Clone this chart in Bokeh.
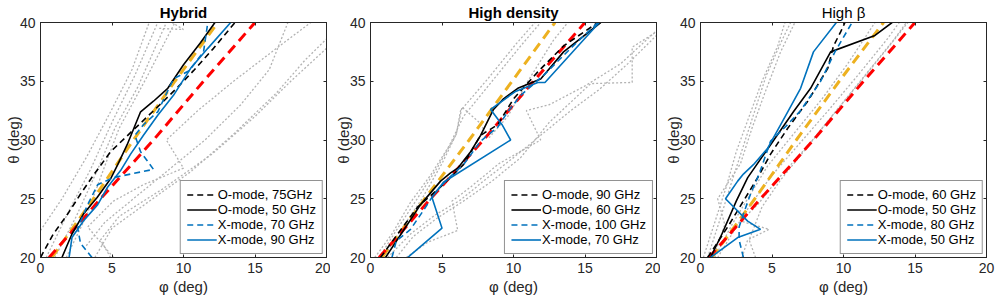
from bokeh.plotting import figure
from bokeh.layouts import row
from bokeh.models import LinearAxis, Legend, LegendItem, Range1d, FixedTicker
from bokeh.embed import file_html
from bokeh.resources import INLINE

FONT = "Liberation Sans"
AX = "#262626"
BLUE = "#0072BD"
YELLOW = "#EDB120"
RED = "#FF0000"
GRAY = "#b3b3b3"

x_ticks = [0, 5, 10, 15, 20]
y_ticks = [20, 25, 30, 35, 40]
titles = ["Hybrid", "High density", "High β"]
x_label = "φ (deg)"
y_label = "θ (deg)"

# ---------------- Hybrid ----------------
hyb_labels = ["O-mode, 75GHz", "O-mode, 50 GHz", "X-mode, 70 GHz", "X-mode, 90 GHz"]
hyb_o1_phi = [0, 0.9, 1.9, 2.8, 3.7, 4.9, 6.1, 7.4, 8.6, 9.6, 10.7, 12.1, 13.6]
hyb_o1_theta = [20, 22.0, 23.7, 25.4, 27.0, 29.0, 30.4, 31.9, 33.3, 34.5, 35.9, 37.8, 40]
hyb_o2_phi = [1.5, 2.2, 3.0, 3.96, 4.9, 5.4, 6.06, 7.0, 7.9, 8.9, 10.0, 11.2, 12.2]
hyb_o2_theta = [20, 22.0, 23.7, 25.1, 26.7, 27.9, 29.6, 32.4, 33.3, 34.4, 36.4, 38.3, 40]
hyb_x1_phi = [3.6, 2.8, 2.6, 3.3, 4.0, 5.1, 7.9, 7.0, 6.6, 7.2, 8.2, 9.3, 10.4, 11.4, 11.7]
hyb_x1_theta = [20, 21.2, 22.5, 24.5, 26.2, 26.8, 27.5, 29.0, 30.4, 31.3, 32.4, 35.2, 35.9, 37.5, 40]
hyb_x2_phi = [2.0, 2.2, 3.0, 4.0, 4.7, 5.6, 6.3, 7.2, 8.2, 9.3, 10.5, 11.7, 13.3]
hyb_x2_theta = [20, 21.7, 23.1, 24.5, 26.0, 27.4, 28.8, 30.4, 32.1, 33.8, 36.1, 37.8, 40]
hyb_red_phi = [0.6, 4.2, 7.9, 11.4, 15.0]
hyb_red_theta = [20, 25, 30, 35, 40]
hyb_yel_phi = [0.8, 3.7, 6.5, 9.4, 12.4]
hyb_yel_theta = [20, 25, 30, 35, 40]
hyb_gray_phi = [
    [0, 1.5, 3.2, 4.9, 6.4, 7.6],
    [0.4, 2.0, 3.5, 5.0, 6.6, 8.2],
    [1.0, 2.5, 4.0, 5.2, 6.8, 8.8],
    [1.8, 3.2, 4.5, 5.5, 7.5, 9.4],
    [8.3, 10.0, 9.2],
    [3.2, 4.5, 6.5, 9.0, 11.5, 14.0, 16.0, 17.3],
    [3.8, 5.0, 7.5, 10.5, 13.5, 16.5, 18.5, 20.0],
    [4.9, 4.2, 5.5, 8.5, 12.0, 15.0, 17.5, 20.0],
    [5.1, 3.3, 5.1, 7.2, 10.0, 8.8, 11.0, 13.5, 16.5, 18.9],
]
hyb_gray_theta = [
    [22.3, 25, 28.5, 32.4, 36, 40],
    [20, 24, 27.5, 31.5, 35.5, 40],
    [20, 23.5, 27.5, 31.0, 34.5, 40],
    [20, 23.5, 27.8, 31.0, 35.5, 40],
    [39.5, 39.4, 40],
    [21.0, 23.0, 25.0, 27.5, 30.0, 33.0, 36.0, 40],
    [20, 22.5, 24.7, 27.3, 30.5, 34.0, 36.8, 38.6],
    [20, 21.5, 23.5, 25.8, 28.8, 32.0, 35.0, 37.8],
    [20, 22.6, 24.8, 26.2, 27.6, 30.0, 32.5, 35.0, 37.8, 40],
]

# ---------------- High density ----------------
hd_labels = ["O-mode, 90 GHz", "O-mode, 60 GHz", "X-mode, 100 GHz", "X-mode, 70 GHz"]
hd_o1_phi = [0.7, 1.9, 3.3, 4.9, 6.5, 7.7, 8.9, 10.0, 11.7, 13.5, 15.9]
hd_o1_theta = [20, 22.0, 24.3, 26.0, 27.9, 30.4, 31.3, 33.5, 35.8, 38.0, 40]
hd_o2_phi = [1.05, 2.3, 3.5, 4.9, 5.6, 6.1, 7.0, 7.7, 8.6, 9.3, 10.3, 11.9, 13.5, 16.1]
hd_o2_theta = [20, 22.3, 24.5, 26.5, 27.2, 27.6, 29.0, 30.4, 32.6, 33.5, 34.4, 35.2, 37.5, 40]
hd_x1_phi = [1.5, 1.8, 2.8, 3.7, 4.5, 5.5, 6.5, 7.7, 8.9, 9.6, 10.5, 12.1, 14.0, 15.9]
hd_x1_theta = [20, 21.4, 22.4, 24.0, 25.5, 26.8, 27.9, 29.9, 31.1, 32.4, 33.8, 35.5, 37.8, 40]
hd_x2_phi = [2.6, 5.0, 4.3, 5.1, 9.8, 9.2, 8.4, 10.1, 11.7, 12.2, 16.0]
hd_x2_theta = [20, 22.5, 25.1, 26.4, 30.0, 31.3, 32.6, 34.1, 34.9, 34.9, 40]
hd_red_phi = [0.6, 4.2, 7.9, 11.4, 15.0]
hd_red_theta = [20, 25, 30, 35, 40]
hd_yel_phi = [0.8, 3.8, 6.9, 9.9, 12.9]
hd_yel_theta = [20, 25, 30, 35, 40]
hd_gray_phi = [
    [0.3, 1.5, 2.8, 4.2, 5.5, 6.5, 8.5, 10.5, 11.9],
    [0.6, 1.8, 3.0, 4.6, 6.0, 6.3, 8.2, 10.2, 11.5],
    [0.9, 2.2, 3.6, 5.0, 6.0, 6.4, 7.6, 8.3, 9.6, 11.0, 12.8, 13.8],
    [1.2, 2.8, 4.5, 6.3, 8.0, 10.0, 12.0, 14.0, 16.0, 18.0, 20.0],
    [1.8, 3.0, 4.6, 6.5, 8.5, 10.5, 12.5, 15.4, 18.3, 18.3, 20.0],
    [2.5, 4.0, 6.1, 5.7, 7.0, 9.0, 11.9, 10.9, 12.5, 15.0, 17.5, 20.0],
]
hd_gray_theta = [
    [20, 22.0, 24.7, 27.0, 29.5, 32.0, 35.0, 38.0, 40],
    [20, 22.3, 24.5, 27.5, 30.5, 32.5, 35.2, 38.2, 40],
    [20, 22.5, 25.0, 28.0, 30.5, 32.8, 31.5, 30.2, 32.0, 35.0, 38.5, 40],
    [20, 22.0, 23.6, 24.9, 26.6, 28.5, 30.5, 32.5, 34.3, 36.5, 38.9],
    [20, 21.8, 23.3, 24.8, 26.5, 28.5, 31.5, 34.8, 34.9, 37.9, 39.2],
    [20, 21.3, 22.3, 24.8, 26.0, 28.0, 30.0, 32.5, 33.0, 34.6, 36.5, 39.3],
]

# ---------------- High beta ----------------
hb_labels = ["O-mode, 60 GHz", "O-mode, 50 GHz", "X-mode, 80 GHz", "X-mode, 50 GHz"]
hb_o1_phi = [0.5, 1.9, 3.0, 4.0, 4.9, 6.1, 7.5, 8.9, 9.3, 9.8, 10.1]
hb_o1_theta = [20, 22.6, 24.8, 26.8, 28.8, 31.0, 33.3, 36.1, 38.0, 39.2, 40]
hb_o2_phi = [0.7, 1.5, 2.5, 3.3, 4.9, 6.5, 7.7, 9.1, 12.2, 13.4]
hb_o2_theta = [20, 22.0, 24.8, 26.8, 29.6, 32.4, 34.4, 37.5, 38.9, 40]
hb_x1_phi = [3.0, 2.7, 2.7, 3.0, 3.5, 4.1, 4.9, 6.0, 7.0, 8.4, 9.4, 10.6]
hb_x1_theta = [20, 21.5, 22.6, 23.7, 25.4, 27.1, 29.9, 31.2, 32.5, 35.0, 37.5, 40]
hb_x2_phi = [0.7, 2.6, 4.2, 3.3, 1.75, 2.6, 3.0, 3.7, 4.7, 6.1, 7.0, 7.9, 9.5]
hb_x2_theta = [20, 21.7, 22.4, 23.1, 25.0, 26.5, 27.1, 27.9, 29.3, 32.4, 34.4, 37.5, 40]
hb_red_phi = [0.6, 4.2, 7.9, 11.4, 15.0]
hb_red_theta = [20, 25, 30, 35, 40]
hb_yel_phi = [0.8, 3.8, 6.7, 9.7, 12.8]
hb_yel_theta = [20, 25, 30, 35, 40]
hb_gray_phi = [
    [0.2, 1.0, 1.8, 2.5, 3.4, 4.3, 5.4, 5.9],
    [0.5, 1.3, 2.2, 3.0, 3.8, 4.6, 5.7, 6.3],
    [0.9, 1.7, 1.2, 2.8, 3.6, 4.5, 5.6, 6.6],
    [2.9, 3.3, 4.8, 2.8, 4.0, 5.5, 7.5, 9.5, 11.5, 13.5, 14.4],
    [1.2, 2.5, 3.5, 5.0, 7.0, 9.0, 11.0, 13.0, 13.9],
    [3.85, 3.4, 4.3, 5.6, 7.4, 9.3, 11.2, 13.2, 14.5],
    [1.0, 2.2, 3.3, 4.7, 6.5, 8.5, 10.3, 12.2],
]
hb_gray_theta = [
    [20, 23, 26, 29, 32, 35, 38, 40],
    [20, 23, 26.5, 29.5, 32.5, 35.5, 38.5, 40],
    [20, 22.8, 25.0, 28.0, 31.0, 34.0, 37.5, 40],
    [20, 21.5, 22.4, 23.1, 24.5, 26.8, 29.5, 32.5, 35.5, 38.5, 40],
    [20, 22.6, 24.5, 27.0, 29.8, 32.6, 35.5, 38.5, 40],
    [20, 21.5, 24.3, 26.6, 29.3, 32.2, 35.0, 38.0, 40],
    [20, 22.8, 25.0, 27.8, 30.5, 33.5, 36.5, 40],
]


def style_axis(ax, standoff=4, show_labels=True, label_standoff=0):
    ax.axis_line_color = AX
    ax.major_tick_line_color = AX
    ax.minor_tick_line_color = None
    ax.major_tick_in = 3
    ax.major_tick_out = 0
    ax.major_label_text_font = FONT
    ax.major_label_text_font_size = "14px" if show_labels else "1px"
    ax.major_label_text_color = AX if show_labels else None
    ax.major_label_standoff = standoff if show_labels else 0
    ax.axis_label_text_font = FONT
    ax.axis_label_text_font_size = "15px"
    ax.axis_label_text_font_style = "normal"
    ax.axis_label_text_color = AX
    ax.axis_label_standoff = label_standoff


def make_panel(title, bold, gray_phi, gray_theta, red, yel, series, labels, width, border_right):
    p = figure(width=width, height=303, x_range=Range1d(0, 20), y_range=Range1d(20, 40),
               output_backend="svg", toolbar_location=None,
               min_border_left=40, min_border_right=border_right,
               min_border_top=20, min_border_bottom=46,
               x_axis_label=x_label, y_axis_label=y_label)
    p.xgrid.visible = False
    p.ygrid.visible = False
    p.outline_line_color = AX
    p.outline_line_width = 1
    p.background_fill_color = "white"
    p.border_fill_color = "white"

    p.xaxis.ticker = FixedTicker(ticks=x_ticks)
    p.yaxis.ticker = FixedTicker(ticks=y_ticks)
    for ax in p.xaxis:
        style_axis(ax, standoff=5, label_standoff=2)
    for ax in p.yaxis:
        style_axis(ax, standoff=5, label_standoff=-5)

    right = LinearAxis(ticker=FixedTicker(ticks=y_ticks))
    style_axis(right, show_labels=False)
    p.add_layout(right, "right")

    top = LinearAxis(ticker=FixedTicker(ticks=x_ticks), axis_label=title)
    style_axis(top, show_labels=False, label_standoff=2)
    top.axis_label_text_font_style = "bold" if bold else "normal"
    top.axis_label_text_color = "black"
    p.add_layout(top, "above")

    for gx, gy in zip(gray_phi, gray_theta):
        p.line(gx, gy, line_color=GRAY, line_width=1.3, line_dash="2 2")

    p.line(yel[0], yel[1], line_color=YELLOW, line_width=3, line_dash="10 6")
    p.line(red[0], red[1], line_color=RED, line_width=3, line_dash="10 6")

    styles = [("black", "6 4"), ("black", "solid"), (BLUE, "6 4"), (BLUE, "solid")]
    items = []
    for (phi, theta), (col, dash), lab in zip(series, styles, labels):
        r = p.line(phi, theta, line_color=col, line_width=1.6, line_dash=dash)
        items.append(LegendItem(label=lab, renderers=[r]))

    legend = Legend(items=items, location="bottom_right", margin=3, padding=6, spacing=0,
                    glyph_width=30, glyph_height=15, label_height=15, label_standoff=1,
                    label_text_font=FONT, label_text_font_size="13px", label_text_color="black",
                    border_line_color=AX, border_line_width=1,
                    background_fill_color="white", background_fill_alpha=1.0)
    p.add_layout(legend)
    return p


p1 = make_panel(titles[0], True, hyb_gray_phi, hyb_gray_theta,
                (hyb_red_phi, hyb_red_theta), (hyb_yel_phi, hyb_yel_theta),
                [(hyb_o1_phi, hyb_o1_theta), (hyb_o2_phi, hyb_o2_theta),
                 (hyb_x1_phi, hyb_x1_theta), (hyb_x2_phi, hyb_x2_theta)],
                hyb_labels, 330, 4)
p2 = make_panel(titles[1], True, hd_gray_phi, hd_gray_theta,
                (hd_red_phi, hd_red_theta), (hd_yel_phi, hd_yel_theta),
                [(hd_o1_phi, hd_o1_theta), (hd_o2_phi, hd_o2_theta),
                 (hd_x1_phi, hd_x1_theta), (hd_x2_phi, hd_x2_theta)],
                hd_labels, 330, 4)
p3 = make_panel(titles[2], False, hb_gray_phi, hb_gray_theta,
                (hb_red_phi, hb_red_theta), (hb_yel_phi, hb_yel_theta),
                [(hb_o1_phi, hb_o1_theta), (hb_o2_phi, hb_o2_theta),
                 (hb_x1_phi, hb_x1_theta), (hb_x2_phi, hb_x2_theta)],
                hb_labels, 336, 10)

layout = row(p1, p2, p3)
open("out.html", "w").write(file_html(layout, INLINE))
